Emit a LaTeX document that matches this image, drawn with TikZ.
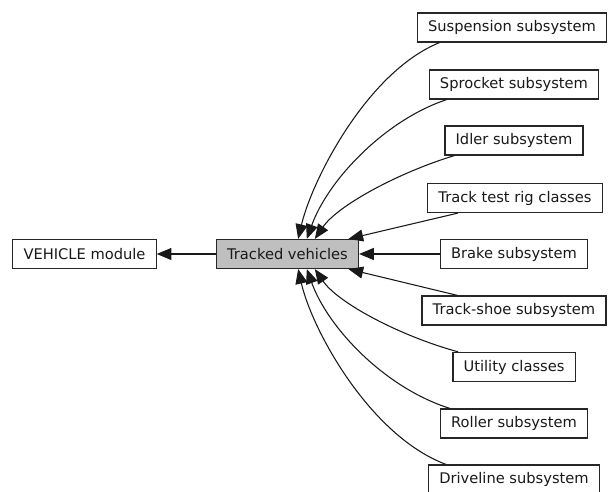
\documentclass[tikz,border=0pt]{standalone}
\usepackage{fontspec}
\setmainfont{DejaVu Sans}
\usetikzlibrary{arrows.meta}

\begin{document}
\begin{tikzpicture}[x=0.75pt,y=0.75pt,yscale=-1,xscale=1,
  box/.style={draw=black!85, line width=0.9pt, fill=white, text=black!90, inner xsep=8pt, inner ysep=0pt, minimum height=21.75pt, font=\fontsize{11}{13}\selectfont},
  dep/.style={draw=black!90, line width=0.8pt, -{Triangle[length=11pt,width=9pt]}}]
\useasboundingbox (0,0) rectangle (610,492);

\node [box] (veh) at (84.5,254) {VEHICLE module};
\node [box, fill={rgb, 255:red, 191; green, 191; blue, 191 }] (tv) at (287.5,254) {Tracked vehicles};

\node [box] (susp) at (512,27.5) {Suspension subsystem};
\node [box] (spro) at (514,84.5) {Sprocket subsystem};
\node [box] (idler) at (514,140.5) {Idler subsystem};
\node [box] (rig) at (515,198) {Track test rig classes};
\node [box] (brake) at (514,254) {Brake subsystem};
\node [box] (shoe) at (514,310.5) {Track-shoe subsystem};
\node [box] (util) at (514,367) {Utility classes};
\node [box] (roll) at (514,423.5) {Roller subsystem};
\node [box] (drive) at (514,479.5) {Driveline subsystem};

\draw [dep] (tv.west) -- (veh.east);

\draw [dep] ([xshift=17pt]susp.south west) .. controls (367,72) and (312,180) .. ([xshift=8pt]tv.north);
\draw [dep] ([xshift=13.5pt]spro.south west) .. controls (385,120) and (328,180) .. ([xshift=14.5pt]tv.north);
\draw [dep] ([xshift=7.5pt]idler.south west) .. controls (400,172) and (338,205) .. ([xshift=20.5pt]tv.north);
\draw [dep] ([xshift=23pt]rig.south west) -- ([xshift=-8pt]tv.north east);
\draw [dep] (brake.west) -- (tv.east);
\draw [dep] ([xshift=27pt]shoe.north west) -- ([xshift=-8pt]tv.south east);
\draw [dep] ([xshift=4.5pt]util.north west) .. controls (400,336) and (338,303) .. ([xshift=20.5pt]tv.south);
\draw [dep] ([xshift=7.5pt]roll.north west) .. controls (385,388) and (328,328) .. ([xshift=14.5pt]tv.south);
\draw [dep] ([xshift=13.5pt]drive.north west) .. controls (370,436) and (312,330) .. ([xshift=8pt]tv.south);

\end{tikzpicture}
\end{document}
